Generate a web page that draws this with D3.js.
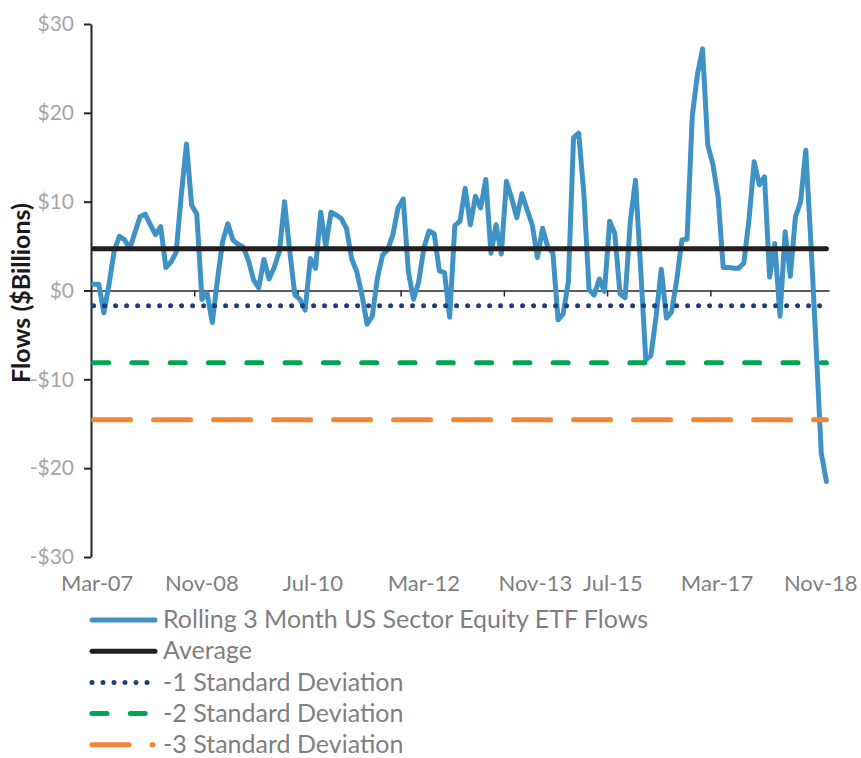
<!DOCTYPE html>
<html>
<head>
<meta charset="utf-8">
<script src="https://cdnjs.cloudflare.com/ajax/libs/d3/7.8.5/d3.min.js"></script>
<style>
	body { margin: 0; background: #fff; }
	text { font-family: Lato, "Open Sans", sans-serif; }
</style>
</head>
<body>
<svg id="chart" width="861" height="758"></svg>
<script>
// monthly rolling 3 month flows, $bn, starting Mar-07
var flows = [
	0.7, 0.7, -2.5, 0.7, 4.5, 6.1, 5.7, 4.7, 6.5, 8.3,
	8.6, 7.4, 6.3, 7.2, 2.6, 3.2, 4.3, 10.8, 16.5, 9.6,
	8.6, -1.0, -0.3, -3.6, 1.2, 5.5, 7.5, 5.7, 5.2, 4.9,
	3.4, 1.2, 0.3, 3.5, 1.3, 2.6, 4.4, 10.0, 4.5, -0.5,
	-1.0, -2.2, 3.6, 2.5, 8.8, 5.0, 8.8, 8.5, 8.1, 7.0,
	3.6, 2.1, -0.5, -3.8, -2.9, 1.4, 4.0, 4.6, 6.3, 9.3,
	10.3, 2.1, -1.0, 1.0, 4.8, 6.7, 6.4, 2.2, 2.0, -3.0,
	7.3, 7.8, 11.5, 7.4, 10.6, 9.3, 12.5, 4.2, 7.4, 4.1,
	12.3, 10.4, 8.2, 10.9, 9.1, 7.4, 3.7, 7.0, 4.9, 4.2,
	-3.3, -2.6, 1.0, 17.2, 17.7, 10.9, 0.1, -0.5, 1.3, -0.1,
	7.8, 6.4, -0.4, -0.8, 7.8, 12.4, 2.5, -7.8, -7.3, -2.9,
	2.4, -3.1, -2.4, 1.2, 5.7, 5.8, 19.6, 24.3, 27.2, 16.4,
	14.2, 10.6, 2.6, 2.6, 2.5, 2.5, 3.1, 8.0, 14.5, 11.9,
	12.8, 1.5, 5.3, -2.9, 6.6, 1.6, 8.3, 10.0, 15.8, 5.3,
	-6.3, -18.3, -21.5
];
var average = 4.7;
var stdDev = 6.42;

var yTicks = [30, 20, 10, 0, -10, -20, -30];
var xTickMonths = [20, 40, 60, 80, 100, 120, 140];
var xLabels = ["Mar-07", "Nov-08", "Jul-10", "Mar-12", "Nov-13", "Jul-15", "Mar-17", "Nov-18"];
var xLabelMonths = [1.2, 21.5, 43, 64.5, 86.1, 101.1, 121.3, 141.4];

var legendNames = [
	"Rolling 3 Month US Sector Equity ETF Flows",
	"Average",
	"-1 Standard Deviation",
	"-2 Standard Deviation",
	"-3 Standard Deviation"
];

var svg = d3.select("#chart");

var x = d3.scaleLinear().domain([0, flows.length]).range([91, 829]);
var y = d3.scaleLinear().domain([-30, 30]).range([557, 24]);

// y axis
var yAxis = svg.append("g")
	.attr("transform", "translate(91,0)")
	.call(d3.axisLeft(y).tickValues(yTicks).tickSize(7).tickSizeOuter(0)
		.tickFormat(function(d) { return (d < 0 ? "-$" : "$") + Math.abs(d); }));
yAxis.select(".domain").attr("stroke", "#262626").attr("stroke-width", 2);
yAxis.selectAll(".tick line").attr("stroke", "#262626").attr("stroke-width", 2);
yAxis.selectAll(".tick text")
	.attr("x", -17)
	.attr("fill", "#a5a5a5")
	.style("font-size", "21px");

// x axis on the zero line, labels at the bottom
var xAxis = svg.append("g")
	.attr("transform", "translate(0," + y(0) + ")")
	.call(d3.axisBottom(x).tickValues(xTickMonths).tickSize(6).tickSizeOuter(0).tickFormat(""));
xAxis.select(".domain").attr("stroke", "#262626").attr("stroke-width", 1.5);
xAxis.selectAll(".tick line").attr("stroke", "#262626").attr("stroke-width", 1.5);

svg.append("g").selectAll("text")
	.data(xLabels)
	.enter().append("text")
	.attr("x", function(d, i) { return x(xLabelMonths[i]); })
	.attr("y", 591)
	.attr("text-anchor", "middle")
	.attr("fill", "#7f7f7f")
	.style("font-size", "22px")
	.text(function(d) { return d; });

// axis title
svg.append("text")
	.attr("transform", "translate(30,293) rotate(-90)")
	.attr("text-anchor", "middle")
	.attr("fill", "#1a1a1a")
	.style("font-size", "25px")
	.style("font-weight", "bold")
	.text("Flows ($Billions)");

var styles = [
	{ color: "#3f92c6", dash: null },
	{ color: "#231f20", dash: null },
	{ color: "#1f3f7a", dash: "0 11" },
	{ color: "#00a651", dash: "15 23.3" },
	{ color: "#f28536", dash: "37 23" }
];
var levels = [average, average - stdDev, average - 2 * stdDev, average - 3 * stdDev];

var line = d3.line()
	.x(function(d, i) { return x(i + 0.5); })
	.y(function(d) { return y(d); });

svg.append("path")
	.datum(flows)
	.attr("d", line)
	.attr("fill", "none")
	.attr("stroke", styles[0].color)
	.attr("stroke-width", 5)
	.attr("stroke-linejoin", "round")
	.attr("stroke-linecap", "round");

levels.forEach(function(v, k) {
	var s = styles[k + 1];
	svg.append("line")
		.attr("x1", x(0.5))
		.attr("x2", x(flows.length - 0.5))
		.attr("y1", y(v))
		.attr("y2", y(v))
		.attr("stroke", s.color)
		.attr("stroke-width", 5)
		.attr("stroke-linecap", "round")
		.attr("stroke-dasharray", s.dash);
});

// legend
var legend = svg.append("g").selectAll("g")
	.data(legendNames)
	.enter().append("g")
	.attr("transform", function(d, i) { return "translate(0," + (620 + i * 31.2) + ")"; });

legend.append("line")
	.attr("x1", 92)
	.attr("x2", function(d, i) { return styles[i].dash ? 153 : 155; })
	.attr("stroke", function(d, i) { return styles[i].color; })
	.attr("stroke-width", 5)
	.attr("stroke-linecap", "round")
	.attr("stroke-dasharray", function(d, i) { return styles[i].dash; });

legend.append("text")
	.attr("x", 163)
	.attr("dy", "0.33em")
	.attr("fill", "#7f7f7f")
	.style("font-size", "25px")
	.text(function(d) { return d; });
</script>
</body>
</html>
